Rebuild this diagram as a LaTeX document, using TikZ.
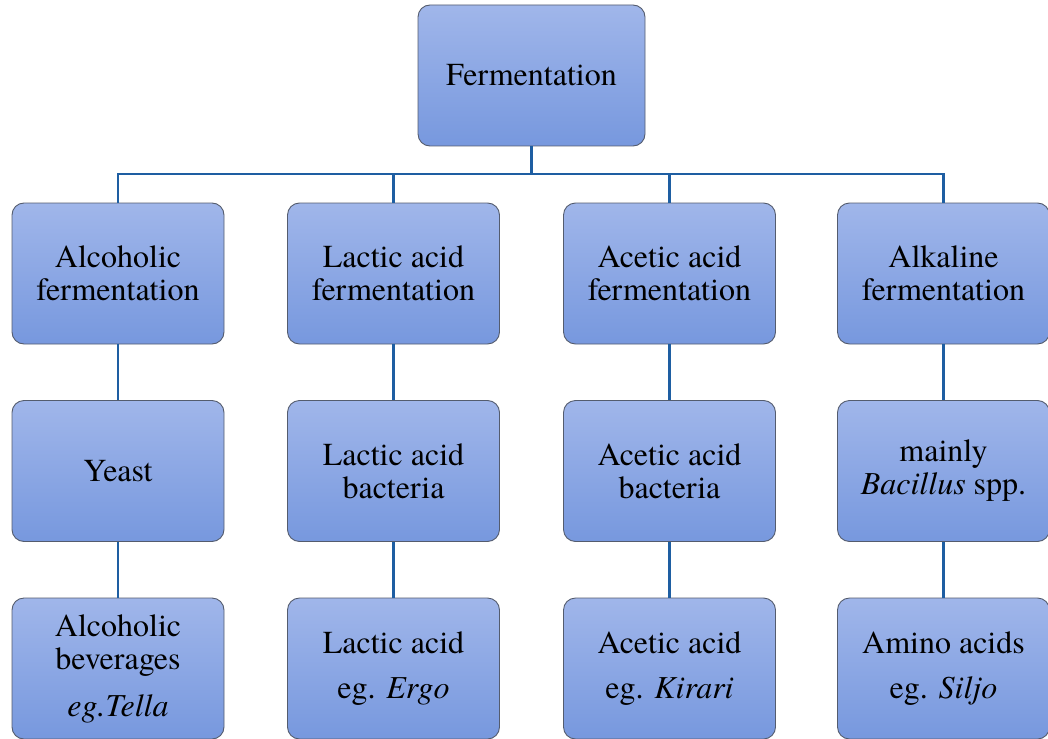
\documentclass[tikz,border=0pt]{standalone}
\usepackage{fontspec}
\setmainfont{TeX Gyre Termes}
\definecolor{boxtop}{RGB}{160,182,234}
\definecolor{boxbot}{RGB}{119,152,222}
\definecolor{boxedge}{RGB}{84,92,110}
\definecolor{linkc}{RGB}{30,94,162}
\tikzset{
  fbox/.style={draw=boxedge, line width=0.9pt, rounded corners=12pt,
    top color=boxtop, bottom color=boxbot, minimum width=212pt, minimum height=141pt,
    align=center, inner sep=0pt, font=\fontsize{32}{33}\selectfont},
  link/.style={draw=linkc, line width=2.6pt}
}
\begin{document}
\begin{tikzpicture}[x=1pt,y=1pt]
\useasboundingbox (0,0) rectangle (1048,-738);
\clip (0,0) rectangle (1048,-738);
\node[fbox, minimum width=227pt] (top) at (531.5,-75.5) {Fermentation};
\node[fbox] (a1) at (118,-273.5) {Alcoholic\\fermentation};
\node[fbox] (b1) at (393.5,-273.5) {Lactic acid\\fermentation};
\node[fbox] (c1) at (669.5,-273.5) {Acetic acid\\fermentation};
\node[fbox] (d1) at (943.5,-273.5) {Alkaline\\fermentation};
\node[fbox] (a2) at (118,-471) {Yeast};
\node[fbox] (b2) at (393.5,-471) {Lactic acid\\bacteria};
\node[fbox] (c2) at (669.5,-471) {Acetic acid\\bacteria};
\node[fbox] (d2) at (943.5,-471) {mainly\\\textit{Bacillus} spp.};
\node[fbox] (a3) at (118,-668.5) {Alcoholic\\beverages\\[14pt]\textit{eg.Tella}};
\node[fbox] (b3) at (393.5,-668.5) {Lactic acid\\[12pt]eg. \textit{Ergo}};
\node[fbox] (c3) at (669.5,-668.5) {Acetic acid\\[12pt]eg. \textit{Kirari}};
\node[fbox] (d3) at (943.5,-668.5) {Amino acids\\[12pt]eg. \textit{Siljo}};
\coordinate (bus) at (531.5,-174);
\draw[link] (top.south) -- (bus);
\draw[link] (a1.north) |- (bus) -| (d1.north);
\draw[link] (b1.north) -- (b1.north |- bus);
\draw[link] (c1.north) -- (c1.north |- bus);
\foreach \c in {a,b,c,d}{
  \draw[link] (\c1.south) -- (\c2.north);
  \draw[link] (\c2.south) -- (\c3.north);
}
\end{tikzpicture}
\end{document}
